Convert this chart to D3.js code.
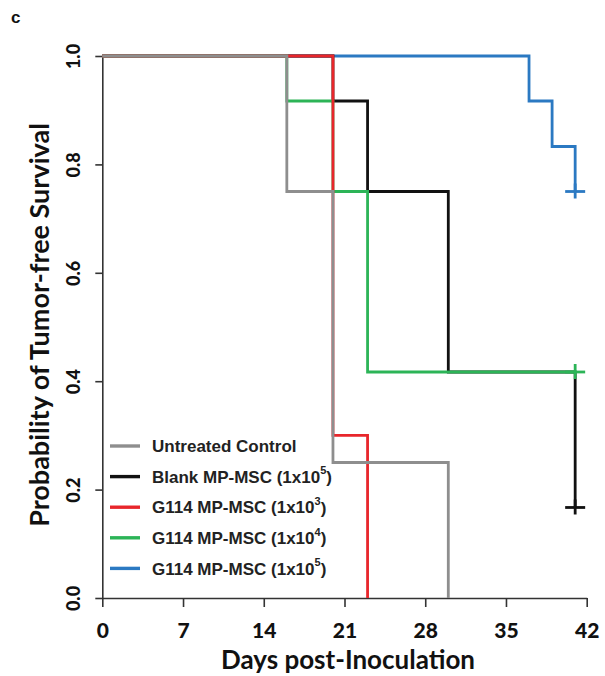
<!DOCTYPE html>
<html>
<head>
<meta charset="utf-8">
<script src="https://cdn.jsdelivr.net/npm/d3@7"></script>
<style>
  body { margin: 0; background: #fff; }
  svg { display: block; }
</style>
</head>
<body>
<div id="chart"></div>
<script>
"use strict";

/* Data: Kaplan-Meier steps (day, survival) */
let seriesNames = ["Untreated Control", "Blank MP-MSC (1x10", "G114 MP-MSC (1x10", "G114 MP-MSC (1x10", "G114 MP-MSC (1x10"];
let seriesSup = ["", "5", "3", "4", "5"];
let seriesColors = ["#8e8e8e", "#111111", "#e8262b", "#2cb457", "#2b79c2"];

let untreatedDays = [0, 16, 20, 30];
let untreatedSurv = [1, 0.75, 0.25, 0];
let blankDays = [0, 20, 23, 30, 41];
let blankSurv = [1, 0.917, 0.75, 0.417, 0.167];
let g3Days = [0, 20, 23];
let g3Surv = [1, 0.3, 0];
let g4Days = [0, 16, 20, 23];
let g4Surv = [1, 0.917, 0.75, 0.417];
let g5Days = [0, 37, 39, 41];
let g5Surv = [1, 0.917, 0.833, 0.75];

// last day each curve is followed to, and whether it ends censored
let endDays = [30, 41, 23, 41, 41];
let censored = [false, true, false, true, true];

let xTicks = [0, 7, 14, 21, 28, 35, 42];
let yTicks = [0, 0.2, 0.4, 0.6, 0.8, 1.0];

let allDays = [untreatedDays, blankDays, g3Days, g4Days, g5Days];
let allSurv = [untreatedSurv, blankSurv, g3Surv, g4Surv, g5Surv];

/* Canvas */
let svgWidth = 605;
let svgHeight = 676;

let svg = d3.select("#chart")
  .append("svg")
  .attr("width", svgWidth)
  .attr("height", svgHeight);

let xScale = d3.scaleLinear().domain([0, 42]).range([102.3, 586.7]);
let yScale = d3.scaleLinear().domain([0, 1]).range([598, 56]);

/* Axes */
let xAxis = svg.append("g")
  .attr("transform", "translate(0," + yScale(0) + ")")
  .call(d3.axisBottom(xScale).tickValues(xTicks).tickSize(9).tickSizeOuter(0).tickPadding(16));

let yAxis = svg.append("g")
  .attr("transform", "translate(" + xScale(0) + ",0)")
  .call(d3.axisLeft(yScale).tickValues(yTicks).tickSize(7).tickSizeOuter(0)
    .tickFormat(d3.format(".1f")));

svg.selectAll(".domain, .tick line")
  .attr("stroke", "#333")
  .attr("stroke-width", 1.6);

xAxis.selectAll(".tick text")
  .attr("font-family", "Lato, sans-serif")
  .attr("font-weight", "900")
  .attr("font-size", "21px")
  .attr("fill", "#111");

yAxis.selectAll(".tick text")
  .attr("font-family", "Lato, sans-serif")
  .attr("font-weight", "900")
  .attr("font-size", "18px")
  .attr("fill", "#111")
  .attr("text-anchor", "middle")
  .attr("dy", "0.35em")
  .attr("x", 0)
  .attr("transform", "translate(-29,0) rotate(-90)");

/* Axis titles */
svg.append("text")
  .attr("x", 348)
  .attr("y", 669)
  .attr("text-anchor", "middle")
  .attr("font-family", "Lato, sans-serif")
  .attr("font-weight", "bold")
  .attr("font-size", "26px")
  .attr("fill", "#111")
  .text("Days post-Inoculation");

svg.append("text")
  .attr("transform", "translate(49,325) rotate(-90)")
  .attr("text-anchor", "middle")
  .attr("font-family", "Lato, sans-serif")
  .attr("font-weight", "bold")
  .attr("font-size", "27px")
  .attr("fill", "#111")
  .text("Probability of Tumor-free Survival");

svg.append("text")
  .attr("x", 11)
  .attr("y", 23)
  .attr("font-family", "Liberation Sans, Arial, sans-serif")
  .attr("font-weight", "bold")
  .attr("font-size", "17px")
  .attr("fill", "#111")
  .text("c");

/* Survival curves, drawn bottom to top: blue, black, green, red, gray */
let line = d3.line()
  .x(function (d) { return xScale(d[0]); })
  .y(function (d) { return yScale(d[1]); })
  .curve(d3.curveStepAfter);

let drawOrder = [4, 1, 3, 2, 0];

for (let k = 0; k < drawOrder.length; k = k + 1) {
  let i = drawOrder[k];
  let pts = [];
  for (let j = 0; j < allDays[i].length; j = j + 1) {
    pts.push([allDays[i][j], allSurv[i][j]]);
  }
  let last = allSurv[i][allSurv[i].length - 1];
  if (endDays[i] > allDays[i][allDays[i].length - 1]) {
    pts.push([endDays[i], last]);
  }
  svg.append("path")
    .datum(pts)
    .attr("d", line)
    .attr("fill", "none")
    .attr("stroke", seriesColors[i])
    .attr("stroke-width", 2.8);

  if (censored[i]) {
    let cx = xScale(endDays[i]);
    let cy = yScale(last);
    svg.append("line")
      .attr("x1", cx - 10).attr("x2", cx + 10)
      .attr("y1", cy).attr("y2", cy)
      .attr("stroke", seriesColors[i])
      .attr("stroke-width", 2.8);
    svg.append("line")
      .attr("x1", cx).attr("x2", cx)
      .attr("y1", cy - 8).attr("y2", cy + 7)
      .attr("stroke", seriesColors[i])
      .attr("stroke-width", 2.8);
  }
}

/* Legend */
let legendX = 110;
let legendY = 446;
let legendStep = 30.6;

for (let i = 0; i < seriesNames.length; i = i + 1) {
  let ly = legendY + i * legendStep;
  svg.append("line")
    .attr("x1", legendX).attr("x2", legendX + 30)
    .attr("y1", ly).attr("y2", ly)
    .attr("stroke", seriesColors[i])
    .attr("stroke-width", 3.4);

  let t = svg.append("text")
    .attr("x", legendX + 42)
    .attr("y", ly)
    .attr("dy", "0.36em")
    .attr("font-family", "Liberation Sans, Arial, sans-serif")
    .attr("font-weight", "bold")
    .attr("font-size", "17px")
    .attr("fill", "#222");
  t.append("tspan").text(seriesNames[i]);
  if (seriesSup[i] !== "") {
    t.append("tspan")
      .attr("font-size", "11px")
      .attr("dy", "-0.75em")
      .text(seriesSup[i]);
    t.append("tspan")
      .attr("dy", "0.5em")
      .text(")");
  }
}
</script>
</body>
</html>
